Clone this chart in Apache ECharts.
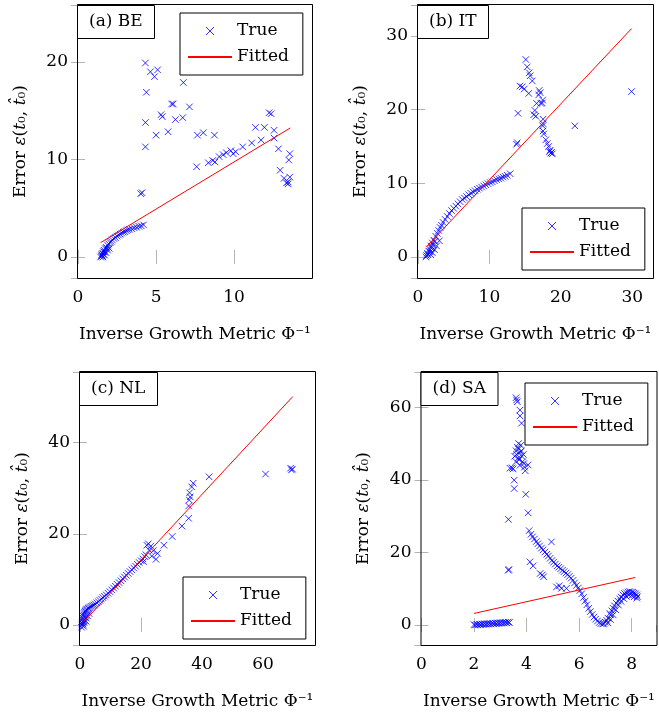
<!DOCTYPE html>
<html>
<head>
<meta charset="utf-8">
<script src="https://cdn.jsdelivr.net/npm/echarts@6/dist/echarts.min.js"></script>
<style>
  html, body { margin: 0; padding: 0; background: #fff; }
  #chart { width: 659px; height: 718px; }
</style>
</head>
<body>
<div id="chart"></div>
<script>
// ---- data ---------------------------------------------------------------
const seriesNames = ['True', 'Fitted'];
const panelLabels = ['(a) BE', '(b) IT', '(c) NL', '(d) SA'];
const xTickSteps = [5, 10, 20, 2];
const yTickSteps = [10, 10, 20, 20];

// (a) BE
const beTrue = [
  [1.45,0.0],[1.5,0.1],[1.52,0.25],[1.55,0.15],[1.58,0.4],[1.6,0.0],[1.6,0.3],[1.63,0.55],[1.67,0.7],[1.7,0.2],
  [1.7,0.5],[1.75,0.85],[1.8,0.45],[1.8,1.0],[1.85,0.9],[1.9,0.7],[1.9,1.2],[1.97,1.35],[2.0,0.9],[2.05,1.5],
  [2.12,1.6],[2.2,1.75],[2.3,1.9],[2.4,2.0],[2.5,2.15],[2.6,2.25],[2.7,2.35],[2.8,2.45],[2.9,2.55],[3.0,2.6],
  [3.1,2.7],[3.2,2.8],[3.3,2.85],[3.45,2.9],[3.6,3.0],[3.75,3.05],[3.9,3.15],[4.05,3.2],[4.2,3.3],
  [4.02,6.5],[4.1,6.6],[4.32,11.3],[4.32,13.8],[4.38,16.9],[4.32,19.9],[4.64,19.0],[4.9,18.5],[5.1,19.2],
  [5.0,12.5],[5.32,14.6],[5.4,14.4],[5.77,12.85],[6.0,15.7],[6.1,15.7],[6.24,14.1],[6.71,14.3],[6.75,17.9],
  [7.14,15.4],[7.6,9.26],[7.65,12.5],[8.03,12.75],[8.74,12.5],
  [8.35,9.67],[8.63,9.9],[8.78,9.75],[9.04,10.3],[9.3,10.5],[9.5,10.7],[9.79,10.9],[9.94,10.6],[10.1,10.8],
  [10.55,11.3],[11.13,11.7],[11.37,13.3],[11.73,12.0],[11.94,13.3],[12.24,14.8],[12.37,14.7],[12.56,13.0],
  [12.56,12.2],[12.84,11.1],[12.95,8.9],[13.2,8.07],[13.35,7.6],[13.46,7.5],[13.57,8.2],[13.5,9.95],
  [13.57,10.6],[13.46,7.7]
];
const beFitted = [[1.45,1.48],[13.6,13.24]];

// (b) IT
const itTrue = [
  [1.1,0.0],[1.2,0.2],[1.3,0.5],[1.4,0.3],[1.5,0.8],[1.6,1.1],[1.7,0.7],[1.8,1.5],[1.8,0.3],[1.9,1.2],
  [2.0,1.9],[2.0,0.6],[2.1,1.6],[2.2,2.3],[2.3,1.0],[2.35,2.1],[2.5,2.8],[2.6,1.5],[2.7,3.2],[2.9,3.6],
  [3.0,2.2],[3.1,4.0],[3.3,4.3],[3.5,4.7],[3.8,5.1],[4.1,5.5],[4.4,5.9],[4.7,6.3],[5.0,6.6],[5.3,6.9],
  [5.6,7.2],[5.9,7.5],[6.2,7.8],[6.5,8.0],[6.8,8.2],[7.1,8.45],[7.4,8.65],[7.7,8.85],[8.0,9.0],[8.3,9.2],
  [8.6,9.35],[8.9,9.5],[9.2,9.65],[9.5,9.8],[9.8,9.95],[10.1,10.1],[10.4,10.2],[10.7,10.35],[11.0,10.5],
  [11.3,10.6],[11.6,10.7],[11.9,10.85],[12.2,10.95],[12.5,11.1],[12.9,11.3],
  [13.8,15.3],[13.9,15.5],[14.0,19.5],[14.27,23.2],[14.6,23.1],[14.87,22.8],[15.5,22.2],[15.1,26.8],
  [15.29,25.8],[15.57,25.0],[15.7,24.6],[16.0,23.9],[16.97,22.6],[17.1,22.3],[16.9,22.0],[16.6,20.85],
  [17.2,20.85],[17.4,20.9],[17.45,21.3],[16.36,19.9],[16.2,19.3],[16.5,19.1],[17.5,18.7],[17.5,18.1],
  [17.45,17.8],[17.5,17.1],[17.6,16.7],[17.9,15.9],[18.1,15.4],[18.3,15.0],[18.5,14.5],[18.7,14.2],
  [18.8,14.0],[18.6,14.1],[18.4,14.3],[21.96,17.8],[29.9,22.45]
];
const itFitted = [[1.2,1.4],[29.9,31.0]];

// (c) NL
const nlTrue = [
  [0.5,-0.5],[0.6,0.0],[0.7,0.4],[0.8,0.8],[0.9,1.2],[1.0,1.5],[1.1,1.9],[1.2,2.2],[1.35,2.5],[1.5,2.8],
  [1.7,3.0],[1.9,3.2],[2.1,3.35],[2.4,3.5],[2.7,3.65],[3.0,3.8],[3.4,3.95],[3.8,4.1],[4.2,4.25],[4.6,4.4],
  [5.0,4.6],[5.5,4.85],[6.0,5.1],[6.5,5.4],[7.0,5.7],[7.5,6.0],[8.0,6.3],[8.6,6.6],[9.2,6.95],[9.8,7.3],
  [10.4,7.7],[11.0,8.1],[11.6,8.5],[12.2,8.9],[12.8,9.3],[13.4,9.7],[14.0,10.1],[14.6,10.5],[15.2,10.9],
  [15.8,11.3],[16.4,11.7],[17.0,12.1],[17.6,12.5],[18.2,12.9],[18.8,13.3],[19.4,13.7],[20.0,14.1],
  [20.6,14.5],[21.2,15.0],
  [1.0,0.2],[1.3,0.6],[1.6,1.0],[2.0,1.5],[2.5,2.0],[3.0,2.5],[1.2,-0.3],[2.0,0.8],
  [21.9,17.5],[22.4,17.8],[23.2,17.3],[22.7,16.4],[24.0,16.3],[21.6,15.4],[25.4,15.7],[24.9,14.4],
  [23.5,15.1],[20.8,13.9],
  [27.5,17.5],[30.2,19.4],[33.4,21.7],[35.6,23.4],[35.6,26.1],[35.8,27.4],[36.1,28.1],[35.9,29.0],
  [36.6,30.3],[37.1,31.1],[42.3,32.5],[60.8,33.1],[69.0,34.4],[69.3,34.0],[69.6,34.2]
];
const nlFitted = [[1.3,0.73],[69.7,50.1]];

// (d) SA
const saTrue = [
  [2.0,0.1],[2.05,0.0],[2.1,0.2],[2.15,0.05],[2.2,0.25],[2.25,0.1],[2.3,0.3],[2.35,0.15],[2.4,0.35],
  [2.45,0.2],[2.5,0.4],[2.55,0.25],[2.6,0.45],[2.65,0.3],[2.7,0.5],[2.75,0.35],[2.8,0.55],[2.85,0.4],
  [2.9,0.6],[2.95,0.45],[3.0,0.65],[3.05,0.5],[3.1,0.7],[3.15,0.55],[3.2,0.75],[3.25,0.6],[3.3,0.8],[3.35,0.7],
  [3.31,15.1],[3.33,15.3],[3.31,29.1],[3.37,43.2],[3.45,43.3],[3.49,43.0],[3.53,39.9],[3.53,37.6],
  [3.62,62.0],[3.6,62.6],[3.65,61.5],[3.75,57.6],[3.81,55.6],[3.75,59.2],
  [3.55,46.5],[3.6,48.0],[3.62,47.0],[3.65,49.0],[3.7,48.5],[3.68,46.0],[3.72,45.5],[3.75,47.5],
  [3.78,49.5],[3.8,48.0],[3.82,46.5],[3.85,45.0],[3.88,47.0],[3.9,44.5],[3.92,43.5],[3.95,42.5],
  [3.7,50.0],[3.75,44.0],[3.6,45.0],[4.06,44.1],[3.97,36.0],[4.06,30.9],
  [4.1,26.0],[4.17,25.0],[4.23,24.3],[4.3,23.7],[4.37,23.0],[4.43,22.4],[4.5,21.8],[4.57,21.2],
  [4.63,20.7],[4.7,20.1],[4.77,19.5],[4.83,19.0],[4.9,18.4],[4.97,17.8],[5.03,17.3],[5.1,16.8],
  [5.17,16.3],[5.23,15.9],[5.3,15.5],[5.37,15.1],[5.43,14.7],[5.5,14.3],[5.57,13.9],[5.63,13.4],
  [5.7,12.9],[5.77,12.3],[5.83,11.6],[5.9,10.9],[5.97,10.2],[6.03,9.5],[6.1,8.6],[6.17,7.6],
  [6.23,6.6],[6.3,5.6],[6.37,4.6],[6.43,3.7],[6.5,2.9],[6.57,2.2],[6.63,1.6],[6.7,1.1],[6.77,0.7],
  [6.83,0.4],[6.9,0.3],
  [4.95,22.9],[4.13,17.4],[4.25,16.3],[4.52,14.2],[4.65,13.3],[4.6,13.8],[5.14,10.5],[5.33,10.1],
  [5.52,10.1],[5.25,10.8],
  [6.95,0.4],[7.0,0.8],[7.05,1.3],[7.1,1.9],[7.17,3.2],[7.2,2.8],[7.25,3.9],[7.3,4.6],[7.35,5.3],
  [7.42,6.0],[7.48,6.6],[7.55,7.2],[7.6,7.7],[7.67,8.3],[7.73,8.7],[7.8,8.9],[7.87,9.1],[7.93,9.2],
  [8.0,9.1],[8.05,9.0],[8.1,8.8],[8.15,8.6],[8.2,8.3],[8.22,7.8],
  [7.1,0.6],[7.2,1.5],[7.3,2.8],[7.4,4.2],[7.5,5.5],[7.6,6.5],[7.7,7.3],[7.8,7.9],[7.9,8.2],
  [8.0,8.1],[8.1,7.8],[8.2,7.4]
];
const saFitted = [[2.0,3.2],[8.14,13.1]];

const trueSets = [beTrue, itTrue, nlTrue, saTrue];
const fittedSets = [beFitted, itFitted, nlFitted, saFitted];

// ---- layout -------------------------------------------------------------
const FONT = 'DejaVu Serif';
const FS = 17;
const layout = [
  { left: 78,    top: 5,   width: 234, height: 273, x: [0, 14.99], y: [-2.15, 25.85], legend: { left: 180, top: 13 } },
  { left: 418,   top: 5,   width: 235, height: 273, x: [0, 32.9],  y: [-2.85, 34.2],  legend: { left: 522, top: 208 } },
  { left: 80,    top: 372, width: 235, height: 273, x: [0, 77],    y: [-4.4, 55.5],   legend: { left: 183, top: 577 } },
  { left: 421.5, top: 372, width: 235, height: 273, x: [0, 8.95],  y: [-5.5, 69.7],   legend: { left: 525, top: 383 } }
];

const crossPath = 'path://M0,0L10,10M10,0L0,10';
const dashIcon = 'path://M0,0L44,0L44,2L0,2Z';
const tickStyle = { inside: true, length: 7, lineStyle: { color: '#b4b4b4', width: 1 } };
const labelStyle = { fontFamily: FONT, fontSize: FS, color: '#000' };

// only label values that sit on the tick step
const stepLabel = step => v => (Math.abs(v / step - Math.round(v / step)) < 1e-6 ? String(Math.round(v / step) * step) : '');

const grid = [], xAxis = [], yAxis = [], series = [], legend = [], title = [], graphic = [];

layout.forEach((p, i) => {
  grid.push({ left: p.left, top: p.top, width: p.width, height: p.height, containLabel: false });

  const xBase = {
    type: 'value', gridIndex: i, min: p.x[0], max: p.x[1],
    splitNumber: Math.round((p.x[1] - p.x[0]) / xTickSteps[i]),
    minInterval: xTickSteps[i], maxInterval: xTickSteps[i],
    axisLine: { show: false }, axisTick: tickStyle, splitLine: { show: false }
  };
  const yBase = {
    type: 'value', gridIndex: i, min: p.y[0], max: p.y[1],
    splitNumber: Math.round((p.y[1] - p.y[0]) / yTickSteps[i]),
    minInterval: yTickSteps[i], maxInterval: yTickSteps[i],
    axisLine: { show: false }, axisTick: tickStyle, splitLine: { show: false }
  };

  xAxis.push(Object.assign({}, xBase, {
    position: 'bottom',
    axisLabel: Object.assign({ margin: 11, showMaxLabel: false, formatter: stepLabel(xTickSteps[i]) }, labelStyle),
    name: 'Inverse Growth Metric Φ⁻¹',
    nameLocation: 'middle', nameGap: 48,
    nameTextStyle: labelStyle
  }));
  xAxis.push(Object.assign({}, xBase, { position: 'top', axisLabel: { show: false } }));

  yAxis.push(Object.assign({}, yBase, {
    position: 'left',
    axisLabel: Object.assign({ margin: 10, showMinLabel: false, showMaxLabel: false, formatter: stepLabel(yTickSteps[i]) }, labelStyle),
    name: 'Error {it|ε}({it|t}₀, {it|t̂}₀)',
    nameLocation: 'middle', nameGap: 49, nameRotate: 90,
    nameTextStyle: Object.assign({ rich: { it: { fontFamily: FONT, fontSize: FS, fontStyle: 'italic', color: '#000' } } }, labelStyle)
  }));
  yAxis.push(Object.assign({}, yBase, { position: 'right', axisLabel: { show: false } }));

  series.push({
    name: seriesNames[0], type: 'scatter', xAxisIndex: 2 * i, yAxisIndex: 2 * i,
    data: trueSets[i], symbol: crossPath, symbolSize: 6.5, clip: false,
    itemStyle: { color: '#0000ff', borderColor: '#0000ff', borderWidth: 1 },
    emphasis: { disabled: true }, silent: true, z: 3
  });
  series.push({
    name: seriesNames[1], type: 'line', xAxisIndex: 2 * i, yAxisIndex: 2 * i,
    data: fittedSets[i], symbol: 'none', clip: false,
    lineStyle: { color: '#ff0000', width: 1 }, itemStyle: { color: '#ff0000' },
    emphasis: { disabled: true }, silent: true, z: 4
  });

  legend.push({
    left: p.legend.left, top: p.legend.top, orient: 'vertical',
    data: [
      { name: seriesNames[0], icon: crossPath, itemStyle: { color: '#0000ff', borderColor: '#0000ff', borderWidth: 1 } },
      { name: seriesNames[1], icon: dashIcon, itemStyle: { color: '#ff0000', borderWidth: 0 } }
    ],
    itemWidth: 44, itemHeight: 8, itemGap: 6,
    padding: [8, 14, 8, 8],
    borderColor: '#000', borderWidth: 1, backgroundColor: '#fff',
    textStyle: { fontFamily: FONT, fontSize: FS, color: '#000', lineHeight: 20 },
    selectedMode: false, z: 8
  });

  title.push({
    text: panelLabels[i], left: p.left - 1, top: p.top,
    padding: [7, 12, 7, 12],
    borderColor: '#000', borderWidth: 1, backgroundColor: '#fff',
    textStyle: { fontFamily: FONT, fontSize: FS, fontWeight: 'normal', color: '#000', lineHeight: 20 },
    z: 9
  });

  // plot frame drawn above the tick marks
  graphic.push({
    type: 'rect', silent: true, z: 7,
    shape: { x: p.left - 0.5, y: p.top - 0.5, width: p.width + 1, height: p.height + 1 },
    style: { fill: 'none', stroke: '#000', lineWidth: 1 }
  });
});

const chart = echarts.init(document.getElementById('chart'), null, { renderer: 'canvas' });
chart.setOption({
  animation: false,
  backgroundColor: '#fff',
  grid, xAxis, yAxis, series, legend, title, graphic
});
</script>
</body>
</html>
